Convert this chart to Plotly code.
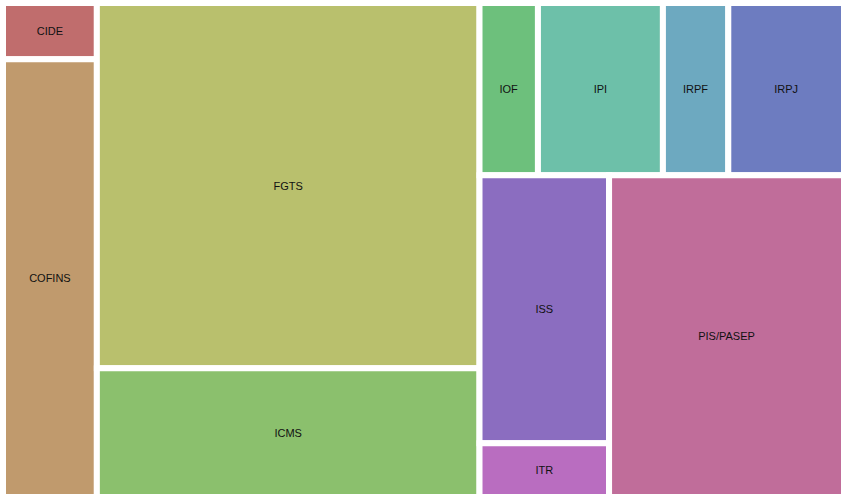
import plotly.graph_objects as go

labels = ["CIDE", "COFINS", "FGTS", "ICMS", "IOF", "IPI", "IRPF", "IRPJ", "ISS", "ITR", "PIS/PASEP"]
values = [5.3, 41.2, 140.2, 49.4, 10.1, 21.6, 11.3, 20.0, 34.8, 7.0, 75.8]
parents = [""] * len(labels)

n = len(labels)
colors = ["hsl(%.1f,40%%,59%%)" % (i * 360.0 / n) for i in range(n)]

fig = go.Figure(go.Treemap(
    labels=labels,
    parents=parents,
    values=values,
    sort=False,
    tiling=dict(packing="squarify", squarifyratio=1.618034, pad=0),
    marker=dict(colors=colors, line=dict(width=6, color="white"),
                pad=dict(t=0, l=0, r=0, b=0)),
    textinfo="label",
    textposition="middle center",
    textfont=dict(family="Liberation Sans, Arial, sans-serif", size=11, color="#111"),
    pathbar=dict(visible=False),
    root=dict(color="white"),
    hoverinfo="label+value",
))
fig.update_layout(
    width=847, height=500,
    margin=dict(l=3, r=3, t=3, b=3),
    paper_bgcolor="white",
    showlegend=False,
)
fig.write_html("out.html", config={"displayModeBar": False},
               post_script="document.body.style.margin='0';")
